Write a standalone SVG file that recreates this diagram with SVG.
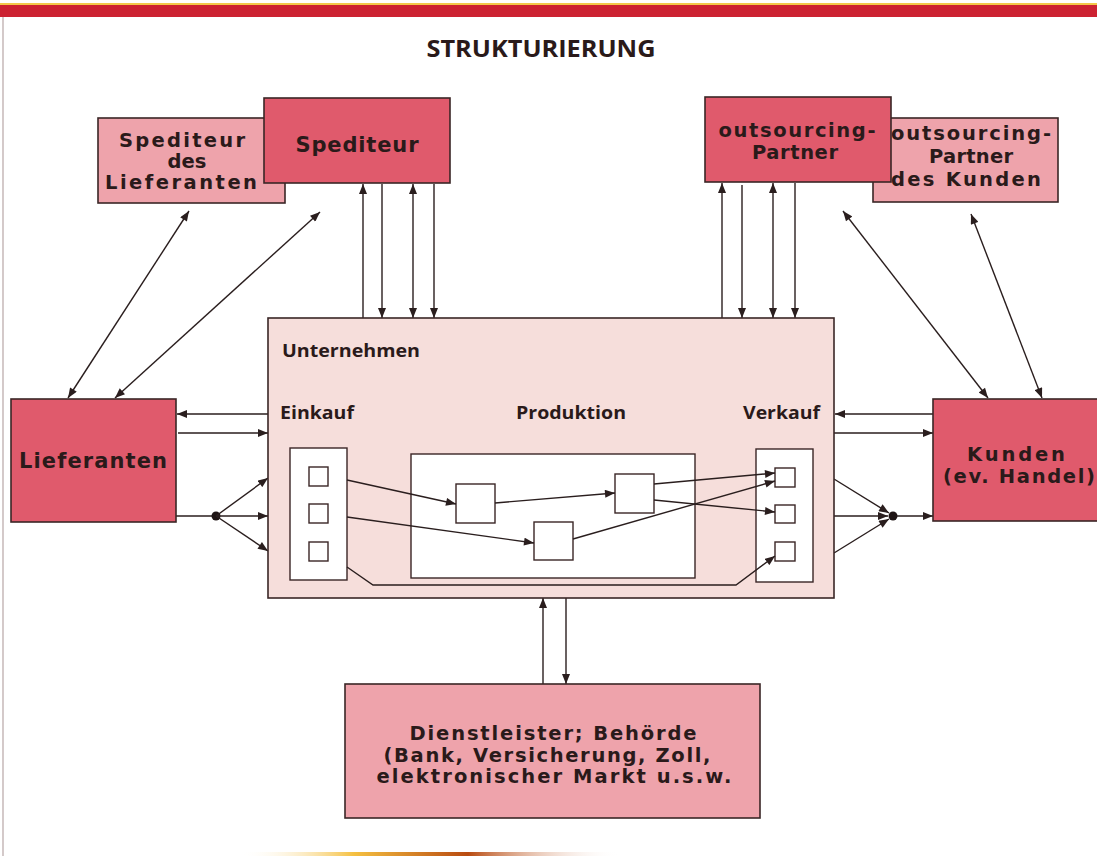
<svg xmlns="http://www.w3.org/2000/svg" width="1097" height="856" viewBox="0 0 1097 856">
  <defs>
    <marker id="arr" viewBox="0 0 10 8" refX="10" refY="4" markerWidth="11" markerHeight="8" markerUnits="userSpaceOnUse" orient="auto-start-reverse">
      <path d="M0,0 L10,4 L0,8 z" fill="#2a1e1e"/>
    </marker>
    <linearGradient id="bottomGlow" x1="0" y1="0" x2="1" y2="0">
      <stop offset="0" stop-color="#ffffff" stop-opacity="0"/>
      <stop offset="0.3" stop-color="#f5c040"/>
      <stop offset="0.6" stop-color="#b84a10"/>
      <stop offset="1" stop-color="#ffffff" stop-opacity="0"/>
    </linearGradient>
    <style>
      .box { stroke: #3a2626; stroke-width: 1.6; }
      .dark { fill: #e05a6c; }
      .light { fill: #eea3ab; }
      .pale { fill: #f6dedb; }
      .white { fill: #ffffff; stroke: #3a2626; stroke-width: 1.4; }
      .lbl { font-family: "DejaVu Sans", "Liberation Sans", sans-serif; font-weight: 700; fill: #2a1a1a; text-anchor: middle; font-size: 21px; }
      .ml { font-size: 19.5px; }
      .sub { font-family: "Open Sans", "Liberation Sans", sans-serif; font-weight: 700; fill: #2a1a1a; font-size: 18px; }
      .ln { stroke: #2a1e1e; stroke-width: 1.4; fill: none; }
      .a { marker-end: url(#arr); }
      .aa { marker-start: url(#arr); marker-end: url(#arr); }
    </style>
  </defs>

  <!-- page frame -->
  <rect x="0" y="0" width="1097" height="856" fill="#ffffff"/>
  <rect x="0" y="3" width="1097" height="2" fill="#f3c84a"/>
  <rect x="0" y="5" width="1097" height="12" fill="#cc2232"/>
  <line x1="3" y1="17" x2="3" y2="856" stroke="#b8a6a6" stroke-width="1.2"/>
  <rect x="240" y="852" width="380" height="4" fill="url(#bottomGlow)"/>

  <text x="541" y="57" font-family="'Open Sans', 'Liberation Sans', sans-serif" font-weight="700" font-size="24" fill="#2a1a1a" text-anchor="middle" textLength="229" lengthAdjust="spacingAndGlyphs">STRUKTURIERUNG</text>

  <!-- connectors -->
  <g id="connectors">
    <!-- Spediteur links -->
    <line class="ln a" x1="363" y1="318" x2="363" y2="184"/>
    <line class="ln a" x1="382" y1="184" x2="382" y2="318"/>
    <line class="ln aa" x1="413" y1="184" x2="413" y2="318"/>
    <line class="ln a" x1="434" y1="184" x2="434" y2="318"/>
    <!-- outsourcing links -->
    <line class="ln a" x1="722" y1="318" x2="722" y2="183"/>
    <line class="ln a" x1="742" y1="185" x2="742" y2="318"/>
    <line class="ln aa" x1="773" y1="183" x2="773" y2="318"/>
    <line class="ln a" x1="795" y1="183" x2="795" y2="318"/>
    <!-- diagonals -->
    <line class="ln aa" x1="68" y1="398" x2="189" y2="211"/>
    <line class="ln aa" x1="115" y1="398" x2="320" y2="212"/>
    <line class="ln aa" x1="843" y1="211" x2="988" y2="398"/>
    <line class="ln aa" x1="971" y1="214" x2="1042" y2="398"/>
    <!-- Lieferanten side -->
    <line class="ln a" x1="268" y1="414" x2="177" y2="414"/>
    <line class="ln a" x1="178" y1="433" x2="268" y2="433"/>
    <line class="ln" x1="176" y1="516" x2="216" y2="516"/>
    <circle cx="216" cy="516" r="4.5" fill="#1e1414"/>
    <line class="ln a" x1="216" y1="516" x2="268" y2="478"/>
    <line class="ln a" x1="216" y1="516" x2="268" y2="516"/>
    <line class="ln a" x1="216" y1="516" x2="268" y2="551"/>
    <!-- Kunden side -->
    <line class="ln a" x1="933" y1="414" x2="835" y2="414"/>
    <line class="ln a" x1="834" y1="433" x2="933" y2="433"/>
    <line class="ln a" x1="834" y1="479" x2="889" y2="513"/>
    <line class="ln a" x1="834" y1="516" x2="888" y2="516"/>
    <line class="ln a" x1="834" y1="553" x2="889" y2="519"/>
    <circle cx="893" cy="516" r="4.5" fill="#1e1414"/>
    <line class="ln a" x1="897" y1="516" x2="933" y2="516"/>
    <!-- services -->
    <line class="ln a" x1="543" y1="684" x2="543" y2="598"/>
    <line class="ln a" x1="566" y1="598" x2="566" y2="684"/>
  </g>

  <!-- nodes -->
  <g id="spediteur-lieferanten">
    <rect class="box light" x="98" y="118" width="187" height="85"/>
    <text class="lbl ml" x="182" y="147" textLength="126" lengthAdjust="spacing">Spediteur</text>
    <text class="lbl ml" x="187" y="168">des</text>
    <text class="lbl ml" x="181" y="189" textLength="152" lengthAdjust="spacing">Lieferanten</text>
  </g>
  <g id="spediteur">
    <rect class="box dark" x="264" y="98" width="186" height="85"/>
    <text class="lbl" x="357" y="152" textLength="123" lengthAdjust="spacing">Spediteur</text>
  </g>

  <g id="outsourcing-kunden">
    <rect class="box light" x="873" y="118" width="185" height="84"/>
    <text class="lbl ml" x="971" y="140" textLength="160" lengthAdjust="spacing">outsourcing-</text>
    <text class="lbl ml" x="971" y="163" textLength="84" lengthAdjust="spacing">Partner</text>
    <text class="lbl ml" x="966" y="186" textLength="150" lengthAdjust="spacing">des Kunden</text>
  </g>
  <g id="outsourcing-partner">
    <rect class="box dark" x="705" y="97" width="186" height="85"/>
    <text class="lbl ml" x="797" y="137" textLength="157" lengthAdjust="spacing">outsourcing-</text>
    <text class="lbl ml" x="795" y="159" textLength="86" lengthAdjust="spacing">Partner</text>
  </g>

  <g id="lieferanten">
    <rect class="box dark" x="11" y="399" width="165" height="123"/>
    <text class="lbl" font-size="22" x="93" y="468" textLength="148" lengthAdjust="spacing">Lieferanten</text>
  </g>

  <g id="kunden">
    <rect class="box dark" x="933" y="399" width="170" height="122"/>
    <text class="lbl ml" x="1016" y="461" textLength="98" lengthAdjust="spacing">Kunden</text>
    <text class="lbl ml" x="1019" y="483" textLength="152" lengthAdjust="spacing">(ev. Handel)</text>
  </g>

  <g id="unternehmen">
    <rect class="box pale" x="268" y="318" width="566" height="280"/>
    <text class="sub" x="282" y="357" textLength="138" lengthAdjust="spacingAndGlyphs">Unternehmen</text>
    <text class="sub" x="280" y="419" textLength="74" lengthAdjust="spacingAndGlyphs">Einkauf</text>
    <text class="sub" x="516" y="419" textLength="110" lengthAdjust="spacingAndGlyphs">Produktion</text>
    <text class="sub" x="743" y="419" textLength="77" lengthAdjust="spacingAndGlyphs">Verkauf</text>

    <g id="einkauf">
      <rect class="white" x="290" y="448" width="57" height="132"/>
      <rect class="white" x="309" y="467" width="19" height="19"/>
      <rect class="white" x="309" y="504" width="19" height="19"/>
      <rect class="white" x="309" y="542" width="19" height="19"/>
    </g>
    <g id="produktion">
      <rect class="white" x="411" y="454" width="284" height="124"/>
      <rect class="white" x="456" y="484" width="39" height="39"/>
      <rect class="white" x="615" y="474" width="39" height="39"/>
      <rect class="white" x="534" y="522" width="39" height="38"/>
    </g>
    <g id="verkauf">
      <rect class="white" x="756" y="449" width="57" height="133"/>
      <rect class="white" x="775" y="468" width="20" height="19"/>
      <rect class="white" x="775" y="505" width="20" height="18"/>
      <rect class="white" x="775" y="542" width="20" height="19"/>
    </g>

    <g id="flow">
      <line class="ln a" x1="347" y1="480" x2="456" y2="504"/>
      <line class="ln a" x1="347" y1="517" x2="534" y2="543"/>
      <line class="ln a" x1="495" y1="503" x2="615" y2="493"/>
      <line class="ln a" x1="654" y1="484" x2="775" y2="473"/>
      <line class="ln a" x1="654" y1="500" x2="775" y2="512"/>
      <line class="ln a" x1="573" y1="539" x2="775" y2="481"/>
      <path class="ln a" d="M347,567 L373,585 L736,585 L775,556"/>
    </g>
  </g>

  <g id="dienstleister">
    <rect class="box light" x="345" y="684" width="415" height="134"/>
    <text class="lbl ml" x="553" y="740" textLength="287" lengthAdjust="spacing">Dienstleister; Behörde</text>
    <text class="lbl ml" x="547" y="762" textLength="327" lengthAdjust="spacing">(Bank, Versicherung, Zoll,</text>
    <text class="lbl ml" x="554" y="783" textLength="355" lengthAdjust="spacing">elektronischer Markt u.s.w.</text>
  </g>
</svg>
